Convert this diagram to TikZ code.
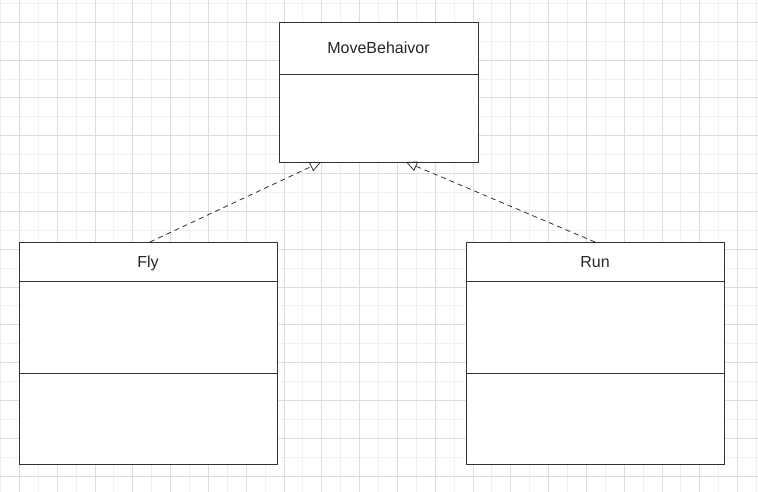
\documentclass[tikz,border=0pt]{standalone}
\usepackage{fontspec}
\setmainfont{Liberation Sans}
\usetikzlibrary{arrows.meta}
\definecolor{gridminor}{HTML}{F0F0F0}
\definecolor{gridmajor}{HTML}{DDDDDD}
\definecolor{boxline}{HTML}{333333}
\tikzset{
  classbox/.style={draw=boxline, line width=0.9pt, fill=white},
  sepline/.style={draw=boxline, line width=0.9pt},
  title/.style={font=\fontsize{16}{19}\selectfont, text=black!85, inner sep=0pt, anchor=base},
  realize/.style={draw=black!85, line width=0.75pt, dash pattern=on 5pt off 4pt,
    -{Triangle[open, length=11pt, width=10pt]}}
}
\begin{document}
\begin{tikzpicture}[x=1pt, y=-1pt]
\useasboundingbox (0,0) rectangle (758,492);
\fill[white] (0,0) rectangle (758,492);
% grid
\foreach \i in {0,...,40} {
  \draw[gridminor, line width=0.8pt] ({0.4+18.9*\i},0) -- ({0.4+18.9*\i},492);
}
\foreach \i in {0,...,26} {
  \draw[gridminor, line width=0.8pt] (0,{3.4+18.9*\i}) -- (758,{3.4+18.9*\i});
}
\foreach \i in {0,...,20} {
  \draw[gridmajor, line width=0.8pt] ({19.3+37.8*\i},0) -- ({19.3+37.8*\i},492);
}
\foreach \i in {0,...,13} {
  \draw[gridmajor, line width=0.8pt] (0,{22.3+37.8*\i}) -- (758,{22.3+37.8*\i});
}
% MoveBehaivor
\draw[classbox] (279,22) rectangle (478,162);
\draw[sepline] (279,74) -- (478,74);
\node[title] (mb) at (378.5,54) {MoveBehaivor};
% Fly
\draw[classbox] (19,242) rectangle (277,464);
\draw[sepline] (19,281) -- (277,281);
\draw[sepline] (19,373) -- (277,373);
\node[title] (fly) at (148,267.5) {Fly};
% Run
\draw[classbox] (466,242) rectangle (724,464);
\draw[sepline] (466,281) -- (724,281);
\draw[sepline] (466,373) -- (724,373);
\node[title] (run) at (595,267.5) {Run};
% anchors
\coordinate (flytop) at (150,242);
\coordinate (runtop) at (595,242);
\coordinate (mbl) at (321,162);
\coordinate (mbr) at (406,162);
\draw[realize] (flytop) -- (mbl);
\draw[realize] (runtop) -- (mbr);
\end{tikzpicture}
\end{document}
